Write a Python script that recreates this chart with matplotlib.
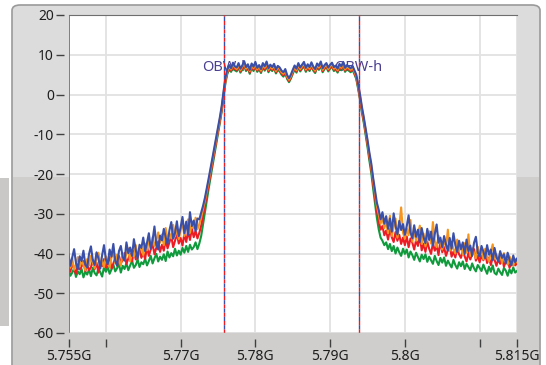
import numpy as np
import matplotlib.pyplot as plt
from matplotlib.patches import FancyBboxPatch, Rectangle

plt.rcParams['axes.unicode_minus'] = False

# spectrum bins every 0.25 MHz, 5.755 GHz .. 5.815 GHz (241 bins)
freq = 5.755 + 0.00025 * np.arange(241)

blue = [
    -40.2, -43.1, -41.0, -38.9, -42.4, -44.0, -40.7, -41.9, -39.3, -42.8,
    -43.5, -40.1, -38.2, -41.6, -42.9, -39.7, -41.2, -43.8, -40.4, -37.9,
    -41.5, -42.7, -39.0, -40.8, -37.6, -41.9, -43.0, -39.4, -38.1, -40.9,
    -41.8, -37.2, -39.9, -38.5, -40.6, -36.4, -39.1, -41.3, -37.8, -38.6,
    -36.0, -39.4, -37.3, -34.9, -38.8, -36.6, -33.2, -37.9, -39.0, -35.5,
    -36.7, -33.8, -35.9, -37.6, -34.2, -32.1, -36.3, -34.8, -31.9, -35.6,
    -33.4, -30.8, -34.9, -32.0, -35.3, -29.6, -33.1, -31.7, -34.4, -31.2,
    -31.4, -29.7, -28.0, -26.0, -23.6, -21.1, -18.6, -16.0, -13.4, -10.9,
    -8.3, -5.7, -2.8, 0.9, 4.3, 6.3, 7.4, 6.6, 8.0, 7.1,
    6.8, 7.9, 6.5, 7.3, 8.4, 6.9, 7.6, 6.2, 7.8, 7.0,
    8.2, 6.7, 7.4, 6.4, 7.9, 7.1, 8.3, 6.6, 7.5, 6.9,
    7.7, 6.3, 7.2, 6.8, 6.0, 5.6, 6.4, 4.9, 4.1, 5.0,
    6.2, 7.3, 6.5, 7.9, 6.8, 7.5, 8.2, 6.7, 7.6, 6.9,
    8.1, 7.0, 6.4, 7.8, 7.2, 8.3, 6.6, 7.4, 7.9, 6.8,
    7.5, 8.0, 6.9, 7.3, 6.5, 7.7, 7.1, 8.2, 6.7, 7.4,
    7.0, 6.6, 7.2, 6.1, 5.0, 2.6, 0.0, -3.1, -5.7, -8.6,
    -11.4, -14.6, -17.3, -20.9, -24.0, -27.2, -29.0, -31.4, -29.6, -32.5,
    -30.6, -33.8, -31.2, -34.5, -29.9, -33.0, -35.2, -31.8, -34.1, -32.6,
    -35.3, -33.1, -30.4, -34.7, -36.2, -32.9, -35.8, -34.0, -37.1, -33.6,
    -35.9, -37.4, -33.8, -36.6, -34.5, -38.0, -35.1, -32.7, -37.3, -36.0,
    -38.4, -35.6, -37.7, -39.3, -36.1, -38.8, -34.9, -37.9, -39.6, -36.8,
    -38.9, -37.2, -40.1, -36.5, -39.4, -38.0, -40.6, -37.3, -35.8, -39.7,
    -40.8, -38.1, -39.5, -41.2, -37.9, -40.3, -39.0, -41.7, -38.6, -40.9,
    -42.0, -39.4, -41.1, -40.2, -42.5, -39.8, -41.6, -43.0, -40.5, -42.2,
    -41.3]

orange = [
    -42.0, -43.6, -41.2, -44.1, -42.8, -40.9, -43.3, -41.7, -42.9, -44.2,
    -41.4, -43.0, -40.6, -42.3, -43.7, -41.1, -39.8, -42.6, -41.9, -43.4,
    -40.7, -42.2, -43.5, -41.0, -39.6, -42.4, -40.3, -41.8, -43.0, -39.9,
    -41.6, -40.2, -38.7, -42.0, -39.5, -40.8, -37.9, -41.2, -39.1, -38.3,
    -40.4, -37.5, -39.2, -36.4, -38.6, -35.9, -38.1, -36.8, -34.7, -37.3,
    -35.2, -37.9, -33.6, -36.5, -34.9, -36.2, -32.8, -35.7, -33.9, -36.4,
    -34.1, -32.2, -35.6, -33.0, -31.4, -34.8, -32.5, -33.7, -31.0, -33.9,
    -32.6, -30.9, -28.8, -26.7, -24.3, -21.8, -19.2, -16.6, -14.0, -11.4,
    -8.8, -6.2, -3.3, 0.4, 3.8, 5.9, 7.0, 6.3, 7.6, 6.8,
    6.4, 7.5, 6.1, 7.0, 7.9, 6.5, 7.2, 5.9, 7.4, 6.6,
    7.8, 6.3, 7.0, 6.0, 7.5, 6.7, 7.9, 6.2, 7.1, 6.5,
    7.3, 5.9, 6.8, 6.4, 5.6, 5.2, 6.0, 4.5, 3.7, 4.6,
    5.8, 6.9, 6.1, 7.5, 6.4, 7.1, 7.8, 6.3, 7.2, 6.5,
    7.7, 6.6, 6.0, 7.4, 6.8, 7.9, 6.2, 7.0, 7.5, 6.4,
    7.1, 7.6, 6.5, 6.9, 6.1, 7.3, 6.7, 7.8, 6.3, 7.0,
    6.6, 6.2, 6.8, 5.7, 4.6, 2.2, -0.4, -3.5, -6.1, -9.0,
    -11.9, -15.1, -17.9, -21.5, -24.7, -28.0, -30.1, -32.5, -31.0, -33.6,
    -32.1, -34.9, -30.5, -35.6, -33.4, -31.2, -36.0, -33.0, -28.4, -34.8,
    -36.3, -33.7, -35.4, -31.6, -37.0, -34.2, -36.8, -35.1, -33.0, -37.6,
    -35.0, -38.2, -36.1, -34.4, -37.5, -32.1, -36.9, -38.4, -35.5, -37.2,
    -39.0, -36.4, -38.6, -34.0, -39.3, -37.1, -38.8, -40.0, -36.5, -39.4,
    -38.0, -40.3, -37.4, -39.8, -35.2, -40.6, -38.7, -39.9, -41.2, -38.3,
    -40.4, -39.1, -41.5, -38.8, -40.9, -42.0, -39.6, -37.7, -41.3, -40.2,
    -41.8, -40.0, -42.4, -39.9, -41.5, -42.8, -40.7, -41.9, -43.1, -41.4,
    -42.2]

red = [
    -43.0, -44.6, -42.4, -43.9, -45.1, -42.7, -44.0, -43.3, -41.9, -44.5,
    -42.8, -44.2, -43.5, -41.6, -43.9, -42.3, -44.8, -42.0, -43.2, -41.4,
    -43.6, -42.1, -40.9, -43.8, -42.5, -41.0, -43.1, -40.6, -42.4, -41.7,
    -39.9, -42.6, -41.3, -40.1, -42.0, -39.4, -41.5, -40.3, -38.8, -41.1,
    -39.7, -41.4, -38.2, -40.6, -39.0, -37.6, -40.2, -38.5, -36.9, -39.6,
    -37.8, -39.3, -36.5, -38.7, -37.2, -35.6, -38.4, -36.8, -34.9, -37.5,
    -36.1, -38.0, -35.0, -37.1, -34.4, -36.6, -33.8, -35.9, -34.3, -36.2,
    -34.8, -33.0, -30.5, -27.9, -25.3, -22.6, -20.0, -17.3, -14.6, -12.0,
    -9.3, -6.7, -3.8, -0.1, 3.4, 5.6, 6.6, 6.0, 7.2, 6.4,
    6.1, 7.1, 5.8, 6.6, 7.6, 6.2, 6.9, 5.5, 7.1, 6.2,
    7.4, 6.0, 6.7, 5.7, 7.2, 6.3, 7.5, 5.9, 6.8, 6.2,
    7.0, 5.6, 6.5, 6.1, 5.3, 4.8, 5.7, 4.2, 3.4, 4.3,
    5.5, 6.6, 5.8, 7.2, 6.1, 6.8, 7.4, 6.0, 6.9, 6.2,
    7.3, 6.3, 5.7, 7.1, 6.5, 7.5, 5.9, 6.7, 7.2, 6.1,
    6.8, 7.3, 6.2, 6.6, 5.8, 7.0, 6.4, 7.5, 6.0, 6.7,
    6.3, 5.9, 6.5, 5.4, 4.2, 1.8, -0.9, -4.0, -6.6, -9.6,
    -12.5, -15.8, -18.7, -22.4, -25.8, -29.3, -31.9, -34.0, -33.1, -35.4,
    -34.2, -36.5, -33.8, -35.9, -37.1, -34.6, -36.8, -35.3, -37.6, -36.0,
    -37.9, -35.7, -38.4, -36.2, -37.3, -39.0, -36.6, -38.1, -35.5, -39.2,
    -37.5, -39.6, -37.0, -38.8, -40.1, -37.4, -39.3, -38.0, -40.4, -36.8,
    -39.7, -38.4, -40.6, -39.1, -37.9, -40.8, -39.5, -41.0, -38.6, -40.2,
    -41.1, -39.4, -40.7, -42.0, -39.8, -41.5, -40.2, -38.9, -41.8, -40.6,
    -42.2, -40.5, -41.7, -39.9, -42.4, -41.0, -42.9, -40.8, -41.6, -43.1,
    -41.4, -42.6, -40.9, -43.3, -42.0, -41.5, -43.6, -42.3, -41.1, -43.0,
    -42.5]

green = [
    -44.3, -45.6, -44.8, -43.7, -45.9, -44.5, -45.2, -43.9, -46.0, -44.6,
    -45.3, -44.0, -45.7, -43.6, -44.9, -45.5, -43.8, -44.7, -45.8, -43.4,
    -44.6, -43.3, -45.1, -44.0, -42.8, -44.5, -43.7, -42.6, -44.8, -43.1,
    -43.9, -42.4, -44.2, -43.0, -41.8, -43.6, -42.9, -41.5, -43.4, -42.2,
    -42.7, -41.3, -43.0, -41.9, -40.6, -42.5, -41.2, -40.1, -42.0, -40.8,
    -41.6, -40.2, -41.9, -39.5, -41.0, -39.9, -40.7, -38.8, -40.5, -39.3,
    -40.3, -38.6, -39.8, -38.1, -39.6, -37.8, -39.0, -38.4, -37.2, -38.9,
    -37.5, -35.6, -32.6, -29.5, -26.6, -23.7, -20.9, -18.1, -15.3, -12.6,
    -9.8, -7.1, -4.2, -0.5, 3.0, 5.2, 6.3, 5.7, 6.9, 6.1,
    5.8, 6.8, 5.5, 6.3, 7.3, 5.9, 6.6, 5.2, 6.8, 5.9,
    7.1, 5.7, 6.4, 5.4, 6.9, 6.0, 7.2, 5.6, 6.5, 5.9,
    6.7, 5.3, 6.2, 5.8, 5.0, 4.5, 5.4, 3.9, 3.1, 4.0,
    5.2, 6.3, 5.5, 6.9, 5.8, 6.5, 7.1, 5.7, 6.6, 5.9,
    7.0, 6.0, 5.4, 6.8, 6.2, 7.2, 5.6, 6.4, 6.9, 5.8,
    6.5, 7.0, 5.9, 6.3, 5.5, 6.7, 6.1, 7.2, 5.7, 6.4,
    6.0, 5.6, 6.2, 5.1, 3.9, 1.4, -1.3, -4.5, -7.1, -10.2,
    -13.2, -16.6, -19.7, -23.6, -27.2, -31.0, -33.9, -36.0, -36.8, -37.9,
    -37.2, -38.9, -37.6, -39.4, -38.1, -40.0, -38.5, -39.7, -40.6, -38.8,
    -40.1, -39.0, -41.0, -39.5, -40.4, -41.6, -39.8, -40.9, -42.0, -40.3,
    -41.4, -40.2, -42.1, -40.8, -41.7, -42.6, -40.6, -41.9, -42.9, -41.1,
    -42.3, -41.0, -43.1, -41.8, -42.7, -43.5, -41.6, -42.9, -43.8, -42.2,
    -43.2, -42.0, -43.9, -42.6, -43.4, -44.2, -42.5, -43.7, -44.5, -42.9,
    -43.6, -44.4, -42.8, -44.0, -45.1, -43.3, -44.6, -43.0, -44.9, -45.3,
    -43.8, -44.7, -45.4, -43.6, -44.3, -45.6, -44.0, -45.0, -43.5, -44.8,
    -44.4]

cursor_freqs = [5.7758, 5.7938]
cursor_labels = ['OBW-l', 'OBW-h']

xticks = [5.755, 5.76, 5.77, 5.78, 5.79, 5.80, 5.81, 5.815]
xticklabels = ['5.755G', '', '5.77G', '5.78G', '5.79G', '5.8G', '', '5.815G']
yticks = [-60, -50, -40, -30, -20, -10, 0, 10, 20]

W, H = 546, 365
fig = plt.figure(figsize=(W / 100, H / 100), dpi=100, facecolor='white')


def box(x0, y0, x1, y1):
    # pixel box (top-left origin) -> figure fractions
    return x0 / W, 1 - y1 / H, (x1 - x0) / W, (y1 - y0) / H


# background panels (LabVIEW-like frame), kept behind the axes
x, y, w, h = box(0, 178, 9, 326)
fig.add_artist(Rectangle((x, y), w, h, transform=fig.transFigure,
                         facecolor='#c9c8c6', edgecolor='none', zorder=-10))
x, y, w, h = box(12, 5, 540, 380)
fig.add_artist(FancyBboxPatch((x, y), w, h, boxstyle='round,pad=0,rounding_size=0.015',
                              transform=fig.transFigure, facecolor='#dcdcdc',
                              edgecolor='#9a9a9a', linewidth=1.2, zorder=-10))
x, y, w, h = box(13, 177, 539, 366)
fig.add_artist(Rectangle((x, y), w, h, transform=fig.transFigure,
                         facecolor='#cfcecc', edgecolor='none', zorder=-9))

x, y, w, h = box(68.5, 15, 517, 333)
ax = fig.add_axes([x, y, w, h])
ax.set_zorder(5)
ax.set_facecolor('white')

for vals, col in [(green, '#0f9a3c'), (red, '#ed1c24'),
                  (orange, '#f7941d'), (blue, '#3a4fa8')]:
    ax.plot(freq, vals, color=col, lw=1.5, zorder=3)

for fc, lab in zip(cursor_freqs, cursor_labels):
    ax.axvline(fc, color='#ed1c24', lw=1, ls=(0, (3, 3)), zorder=4)
    ax.axvline(fc, color='#3a4fa8', lw=1, ls=(3, (3, 3)), zorder=4)
    ax.text(fc, 6.7, lab, color='#4a4090', fontsize=10.5, ha='center', va='center',
            family='Noto Sans', zorder=2)

ax.set_xlim(5.755, 5.815)
ax.set_ylim(-60, 20)
ax.set_xticks(xticks)
ax.set_xticklabels(xticklabels)
ax.set_yticks(yticks)
ax.grid(True, color='#e2e2e2', lw=1.3, zorder=0)
ax.set_axisbelow(True)

# ticks sit a few pixels away from the plot edge, as in the LabVIEW scale
ax.spines['left'].set_position(('outward', 3))
ax.spines['bottom'].set_position(('outward', 4))
ax.spines['left'].set_visible(False)
ax.spines['bottom'].set_visible(False)
ax.spines['right'].set_visible(False)
ax.spines['top'].set_color('#6e6e6e')
ax.axvline(5.755, color='#6e6e6e', lw=1.2, zorder=5)
ax.axhline(-60, color='#cfcfcf', lw=1, zorder=5)

ax.tick_params(length=6, width=1, color='#404040', labelcolor='#1e1e1e',
               labelsize=10, pad=1.5)
for lbl in ax.get_xticklabels() + ax.get_yticklabels():
    lbl.set_family('Noto Sans')

fig.savefig('out.png', dpi=100, facecolor=fig.get_facecolor())
